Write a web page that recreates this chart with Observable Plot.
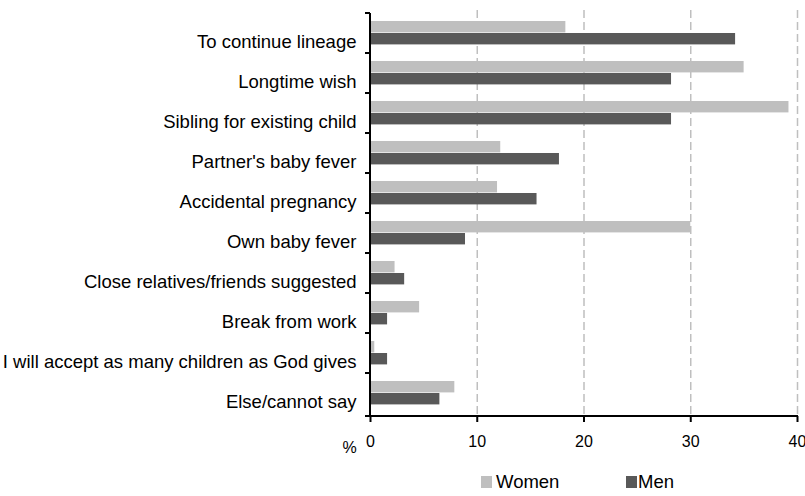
<!DOCTYPE html>
<html><head><meta charset="utf-8">
<script src="https://cdn.jsdelivr.net/npm/d3@7"></script>
<script src="https://cdn.jsdelivr.net/npm/@observablehq/plot@0.6"></script>
<style>
body{margin:0;background:#fff;font-family:"Liberation Sans",Arial,sans-serif;}
#wrap{position:relative;width:805px;height:496px;overflow:hidden;}
.legend{position:absolute;top:473px;left:0;width:805px;height:18px;font-size:18.5px;color:#000;}
.sw{position:absolute;top:3px;width:11px;height:12px;}
.lt{position:absolute;top:0;line-height:18px;white-space:nowrap;}
</style></head><body><div id="wrap"></div>
<script>
const categories = [
  "To continue lineage",
  "Longtime wish",
  "Sibling for existing child",
  "Partner's baby fever",
  "Accidental pregnancy",
  "Own baby fever",
  "Close relatives/friends suggested",
  "Break from work",
  "I will accept as many children as God gives",
  "Else/cannot say"
];
const women = [18.3, 35.0, 39.2, 12.2, 11.9, 30.0, 2.3, 4.6, 0.4, 7.9];
const men   = [34.2, 28.2, 28.2, 17.7, 15.6, 8.9, 3.2, 1.6, 1.6, 6.5];
const seriesNames = ["Women", "Men"];
const seriesColors = ["#bfbfbf", "#595959"];
const xTicks = [0, 10, 20, 30, 40];
const gridTicks = [10, 20, 30, 40];
const unitLabel = ["%"];

const womenData = categories.map((c, i) => ({category: c, value: women[i]}));
const menData = categories.map((c, i) => ({category: c, value: men[i]}));

const chart = Plot.plot({
  width: 805,
  height: 462,
  marginLeft: 370,
  marginRight: 8,
  marginTop: 10,
  marginBottom: 46,
  style: {fontFamily: '"Liberation Sans", Arial, sans-serif', fontSize: "16px", color: "#000", background: "#fff"},
  x: {domain: [0, 40], axis: null},
  y: {domain: categories, paddingInner: 0, paddingOuter: 0, axis: null},
  marks: [
    Plot.ruleX(gridTicks, {stroke: "#bfbfbf", strokeWidth: 1.5, strokeDasharray: "8,4"}),
    Plot.barX(womenData, {y: "category", x: "value", fill: seriesColors[0], insetTop: 8, insetBottom: 20.6}),
    Plot.barX(menData, {y: "category", x: "value", fill: seriesColors[1], insetTop: 20, insetBottom: 8.6}),
    Plot.text(categories, {y: d => d, frameAnchor: "left", textAnchor: "end", lineAnchor: "middle", dx: -14, dy: 8.5, fontSize: 18.5, fill: "#000"}),
    Plot.axisX({ticks: xTicks, tickSize: 6, tickPadding: 13, label: null, stroke: "#000", strokeWidth: 2, fontSize: 16, fill: "#000"}),
    Plot.text(unitLabel, {frameAnchor: "bottom-left", textAnchor: "middle", lineAnchor: "middle", dx: -21, dy: 31.5, fontSize: 16, fill: "#000"})
  ]
});

// axis lines and category-boundary ticks, positioned through Plot's own scales
const xs = chart.scale("x");
const ys = chart.scale("y");
const x0 = xs.apply(0);
const x1 = xs.apply(xTicks[xTicks.length - 1]);
const yBot = ys.range[1];
const bounds = categories.map(c => ys.apply(c)).concat([yBot]);
const g = d3.select(chart).append("g").attr("stroke", "#000");
g.selectAll("line.tk").data(bounds).join("line")
  .attr("x1", x0 - 5).attr("x2", x0).attr("y1", d => d).attr("y2", d => d).attr("stroke-width", 2);
g.append("line").attr("x1", x0).attr("x2", x0).attr("y1", bounds[0]).attr("y2", yBot).attr("stroke-width", 2);
g.append("line").attr("x1", x0 - 1).attr("x2", x1 + 1).attr("y1", yBot).attr("y2", yBot).attr("stroke-width", 2);

const wrap = document.getElementById("wrap");
wrap.appendChild(chart);

const legend = document.createElement("div");
legend.className = "legend";
const legendPos = [{sw: 481, tx: 496}, {sw: 626, tx: 638}];
seriesNames.forEach((name, i) => {
  const sw = document.createElement("span");
  sw.className = "sw";
  sw.style.left = legendPos[i].sw + "px";
  sw.style.background = seriesColors[i];
  const t = document.createElement("span");
  t.className = "lt";
  t.style.left = legendPos[i].tx + "px";
  t.textContent = name;
  legend.appendChild(sw);
  legend.appendChild(t);
});
wrap.appendChild(legend);
</script>
</body></html>
